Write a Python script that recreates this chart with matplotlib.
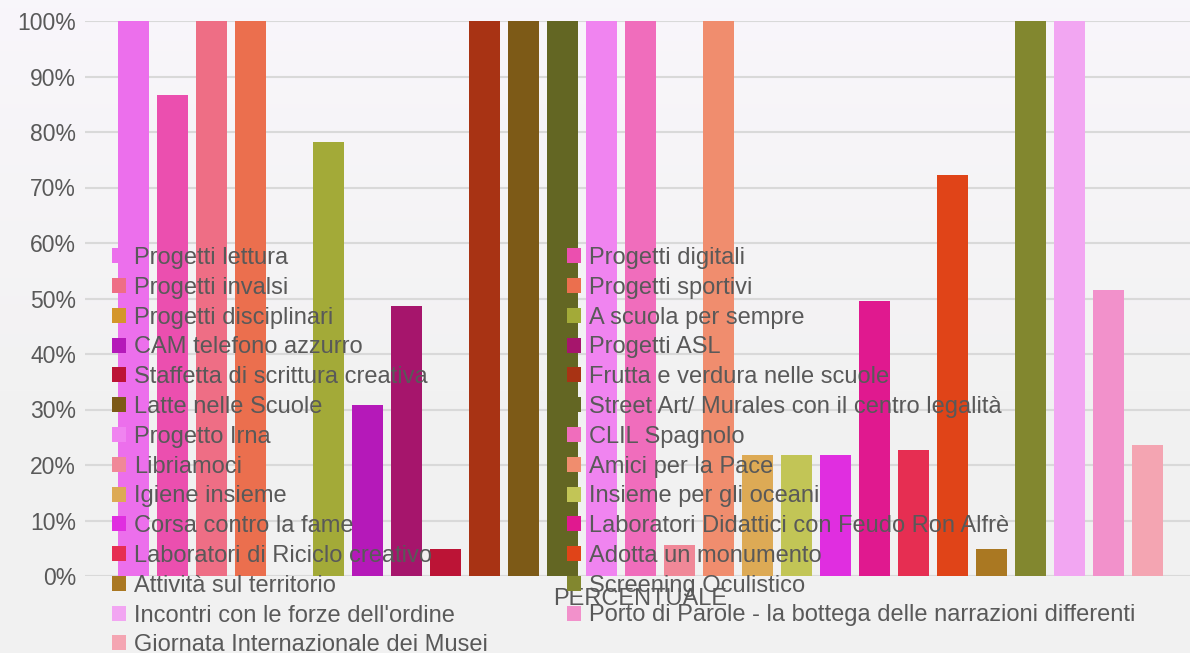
import numpy as np
import matplotlib
matplotlib.use("Agg")
import matplotlib.pyplot as plt

plt.rcParams['font.family'] = ['Liberation Sans', 'DejaVu Sans']

categories = ["PERCENTUALE"]
series_names = [
    "Progetti lettura", "Progetti digitali", "Progetti invalsi", "Progetti sportivi",
    "Progetti disciplinari", "A scuola per sempre", "CAM telefono azzurro", "Progetti ASL",
    "Staffetta di scrittura creativa", "Frutta e verdura nelle scuole", "Latte nelle Scuole",
    "Street Art/ Murales con il centro legalità", "Progetto Irna", "CLIL Spagnolo",
    "Libriamoci", "Amici per la Pace", "Igiene insieme", "Insieme per gli oceani",
    "Corsa contro la fame", "Laboratori Didattici con Feudo Ron Alfrè",
    "Laboratori di Riciclo creativo", "Adotta un monumento", "Attività sul territorio",
    "Screening Oculistico", "Incontri con le forze dell'ordine",
    "Porto di Parole - la bottega delle narrazioni differenti",
    "Giornata Internazionale dei Musei",
]
values = [
    100, 86.7, 100, 100,
    0, 78.2, 30.8, 48.7,
    4.9, 100, 100,
    100, 100, 100,
    5.6, 100, 21.8, 21.8,
    21.8, 49.6,
    22.7, 72.3, 4.9,
    100, 100,
    51.5,
    23.6,
]
colors = [
    "#EC6FEC", "#EB4FAF", "#EE6E85", "#EB6F4E",
    "#D4962A", "#A3AA38", "#B519B9", "#A6156C",
    "#BC1436", "#A83314", "#7D5A17",
    "#636623", "#F084F0", "#F06DBC",
    "#F08898", "#F08D6E", "#DDAA55", "#C2C556",
    "#E02EE0", "#E0198F",
    "#E62E52", "#E04418", "#AA7822",
    "#82872F", "#F2A6F2",
    "#F291CB",
    "#F4A5B2",
]
yticks = [0, 10, 20, 30, 40, 50, 60, 70, 80, 90, 100]
ytick_labels = [f"{v}%" for v in yticks]

W, H = 1190, 653
fig = plt.figure(figsize=(W / 100, H / 100), dpi=100)

# background gradient
bg = fig.add_axes([0, 0, 1, 1], zorder=-10)
grad = np.linspace(0, 1, 256)[:, None]
top = np.array([0.976, 0.965, 0.984])
bot = np.array([0.949, 0.949, 0.949])
t = np.clip(grad / 0.6, 0, 1)
img = (top[None, None, :] * (1 - t[:, :, None]) + bot[None, None, :] * t[:, :, None])
bg.imshow(img, aspect='auto', extent=[0, 1, 0, 1], origin='upper')
bg.axis('off')

left_px, right_px = 85, 1190
bottom_px, top_px = 576, 21
ax = fig.add_axes([left_px / W, (H - bottom_px) / H, (right_px - left_px) / W, (bottom_px - top_px) / H])
ax.set_facecolor('none')

n = len(values)
x = np.arange(n)
step = 39.0
x0_px = 133.5
bars = []
for i in range(n):
    b = ax.bar(x[i], values[i], width=31 / step, color=colors[i], label=series_names[i], zorder=2)
    bars.append(b)

ax.set_xlim(-(x0_px - left_px) / step, (right_px - x0_px) / step)
ax.set_ylim(0, 100)
ax.set_yticks(yticks)
ax.set_yticklabels(ytick_labels)
ax.tick_params(axis='y', length=0, pad=6.5, labelsize=16.5, labelcolor='#595959')
ax.set_xticks([])
for s in ax.spines.values():
    s.set_visible(False)
ax.yaxis.grid(True, color='#d9d9d9', linewidth=1.5, zorder=0)
ax.set_axisbelow(True)
for b in bars:
    for p in b:
        p.set_clip_on(False)

ax.text((n - 1) / 2, -4.1, categories[0], ha='center', va='center', fontsize=17, color='#595959',
        transform=ax.transData)

# legend in two columns, row-wise order
handles = [b for b in bars]
col1 = list(range(0, n, 2))
col2 = list(range(1, n, 2))
leg_kw = dict(frameon=False, fontsize=17, labelcolor='#595959', handlelength=0.6,
              handleheight=0.6, handletextpad=0.33, labelspacing=0.33, borderpad=0,
              borderaxespad=0, loc='upper left')
leg1 = fig.legend([handles[i] for i in col1], [series_names[i] for i in col1],
                  bbox_to_anchor=(112 / W, 1 - 247 / H), **leg_kw)
leg2 = fig.legend([handles[i] for i in col2], [series_names[i] for i in col2],
                  bbox_to_anchor=(567 / W, 1 - 247 / H), **leg_kw)
leg1.set_zorder(5)
leg2.set_zorder(5)

fig.savefig("out.png", dpi=100)
